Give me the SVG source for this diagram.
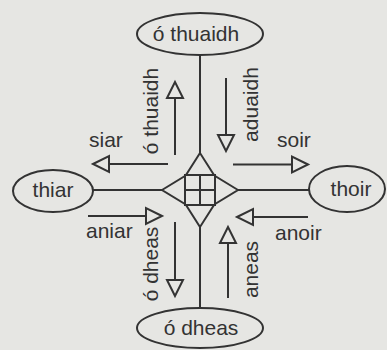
<svg xmlns="http://www.w3.org/2000/svg" width="387" height="350" viewBox="0 0 387 350">
  <style>
    .ln { stroke: #333; stroke-width: 2; fill: none; }
    .node { stroke: #333; stroke-width: 2; fill: #e6e6e3; }
    .hd { stroke: #333; stroke-width: 2; fill: none; stroke-linejoin: miter; }
    text { font-family: "Liberation Sans", Arial, sans-serif; font-size: 21px; fill: #333; }
  </style>
  <rect width="387" height="350" fill="#e6e6e3"/>

  <!-- centre compass mark -->
  <g id="centre" class="ln">
    <rect x="185" y="175" width="30" height="30"/>
    <line x1="200" y1="175" x2="200" y2="205"/>
    <line x1="185" y1="190" x2="215" y2="190"/>
    <polygon points="200,153 186,175 214,175"/>
    <polygon points="200,227 186,205 214,205"/>
    <polygon points="162,190 185,176 185,204"/>
    <polygon points="238,190 215,176 215,204"/>
  </g>

  <!-- lines joining the centre to the four points -->
  <g id="connectors" class="ln">
    <line x1="200" y1="55" x2="200" y2="153"/>
    <line x1="200" y1="227" x2="200" y2="308"/>
    <line x1="93" y1="190" x2="162" y2="190"/>
    <line x1="238" y1="190" x2="309" y2="190"/>
  </g>

  <g id="n-thuaidh">
    <ellipse class="node" cx="200" cy="34" rx="63" ry="21"/>
    <text x="196" y="41" text-anchor="middle">ó thuaidh</text>
  </g>
  <g id="n-thiar">
    <ellipse class="node" cx="53" cy="191" rx="40" ry="21"/>
    <text x="53" y="197" text-anchor="middle">thiar</text>
  </g>
  <g id="n-thoir">
    <ellipse class="node" cx="347" cy="189" rx="38" ry="23"/>
    <text x="351" y="196" text-anchor="middle">thoir</text>
  </g>
  <g id="n-dheas">
    <ellipse class="node" cx="200" cy="328" rx="63" ry="20"/>
    <text x="201" y="335" text-anchor="middle">ó dheas</text>
  </g>

  <!-- direction arrows with open heads -->
  <g id="arrows">
    <line class="ln" x1="175" y1="155" x2="175" y2="98"/>
    <polygon class="hd" points="175,82 167,98 183,98"/>
    <line class="ln" x1="226" y1="78" x2="226" y2="135"/>
    <polygon class="hd" points="226,151 218,135 234,135"/>
    <line class="ln" x1="175" y1="222" x2="175" y2="280"/>
    <polygon class="hd" points="175,296 167,280 183,280"/>
    <line class="ln" x1="228" y1="298" x2="228" y2="243"/>
    <polygon class="hd" points="228,227 220,243 236,243"/>
    <line class="ln" x1="168" y1="164" x2="109" y2="164"/>
    <polygon class="hd" points="93,164 109,156 109,172"/>
    <line class="ln" x1="233" y1="164.5" x2="292" y2="164.5"/>
    <polygon class="hd" points="308,164.5 292,156.5 292,172.5"/>
    <line class="ln" x1="88" y1="216" x2="146" y2="216"/>
    <polygon class="hd" points="162,216 146,208 146,224"/>
    <line class="ln" x1="308" y1="217" x2="253" y2="217"/>
    <polygon class="hd" points="237,217 253,209 253,225"/>
  </g>

  <g id="labels">
    <text x="89" y="147">siar</text>
    <text x="277" y="147">soir</text>
    <text x="86" y="238">aniar</text>
    <text x="275" y="240">anoir</text>
    <text transform="translate(158,111) rotate(-90)" text-anchor="middle">ó thuaidh</text>
    <text transform="translate(258,104.5) rotate(-90)" text-anchor="middle">aduaidh</text>
    <text transform="translate(158,264) rotate(-90)" text-anchor="middle">ó dheas</text>
    <text transform="translate(258,269.5) rotate(-90)" text-anchor="middle">aneas</text>
  </g>
</svg>
